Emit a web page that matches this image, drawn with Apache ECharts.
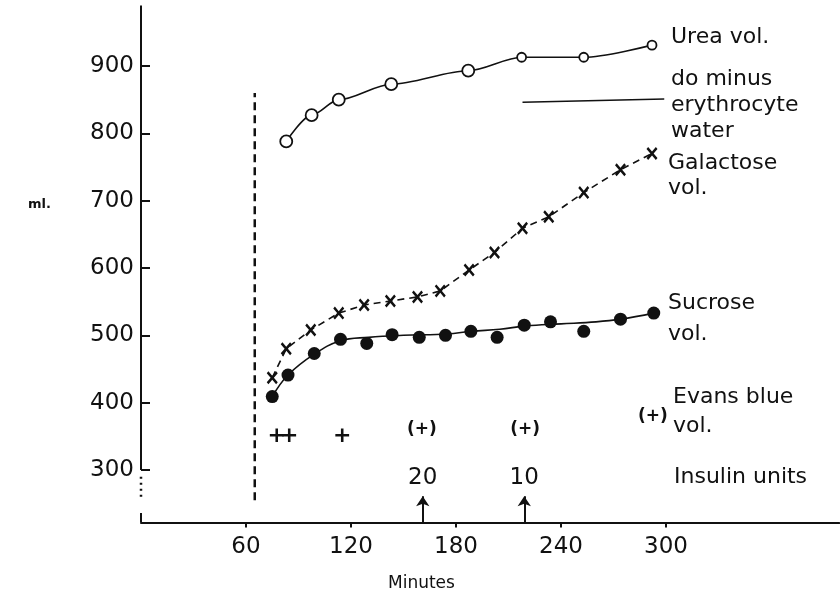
<!DOCTYPE html>
<html>
<head>
<meta charset="utf-8">
<script src="https://cdn.jsdelivr.net/npm/echarts@6/dist/echarts.min.js"></script>
<style>
  html, body { margin: 0; background: #fff; }
  #chart { width: 840px; height: 595px; }
</style>
</head>
<body>
<div id="chart"></div>
<script>
// values (minutes, ml.)
const ureaMinutes = [83, 97.5, 113, 143, 187, 217.5, 253, 292];
const ureaVol = [788, 827, 850, 873, 893, 913, 913, 931];

const galactoseMinutes = [75, 83, 97, 113, 127.5, 142.5, 158, 171, 187.5, 202, 218, 233, 253, 274, 292];
const galactoseVol = [437, 480, 508, 533, 545, 551, 557, 566, 597, 623, 659, 676, 712, 746, 770];

const sucroseMinutes = [75, 84, 99, 114, 129, 143.5, 159, 174, 188.5, 203.5, 219, 234, 253, 274, 293];
const sucroseVol = [409, 441, 473, 494, 488, 501, 497, 500, 506, 497, 515, 520, 506, 524, 533];

// smooth curve drawn through the sucrose points
const sucroseFitMinutes = [75, 84, 99, 114, 130, 150, 175, 189, 205, 220, 240, 260, 274, 293];
const sucroseFitVol = [409, 441, 472, 492, 497, 500, 502, 506, 509, 514, 517, 520, 524, 533];

// "do minus erythrocyte water" line
const erythroMinutes = [218, 299];
const erythroVol = [846, 851];

const evansMinutes = [77.5, 84.7, 115, 160.5, 219.5, 292.5];
const evansLevel = [349.5, 349.5, 349.5, 359.5, 359.5, 379];
const evansMarks = ['+', '+', '+', '(+)', '(+)', '(+)'];

const insulinMinutes = [161, 219];
const insulinUnits = ['20', '10'];
const insulinLabelLevel = 288;

const dashedLineMinute = 65;
const dashedLineRange = [255, 860];

const yTicks = [300, 400, 500, 600, 700, 800, 900];
const xTicks = [60, 120, 180, 240, 300];

const yMin = 222, yMax = 990;

const pair = (xs, ys) => xs.map((x, i) => [x, ys[i]]);
const ink = '#111';
const font = '"DejaVu Sans", sans-serif';

const chart = echarts.init(document.getElementById('chart'));

const plainLine = (data, extra) => Object.assign({
  type: 'line',
  data: data,
  symbol: 'none',
  silent: true,
  clip: false,
  lineStyle: { color: ink, width: 2 }
}, extra);

const xMark = 'path://M0,3 L3,0 L10,7 L17,0 L20,3 L13,10 L20,17 L17,20 L10,13 L3,20 L0,17 L7,10 Z';

const hidden = { color: 'rgba(0,0,0,0)', opacity: 1 };

chart.setOption({
  animation: false,
  backgroundColor: '#fff',
  grid: { left: 141, top: 5.4, width: 698.25, height: 517.1, outerBoundsMode: 'none' },
  xAxis: {
    type: 'value',
    min: 0,
    max: 399,
    axisLine: { lineStyle: { color: ink, width: 2 } },
    axisTick: { customValues: xTicks, length: 5, lineStyle: { color: ink, width: 2 } },
    axisLabel: { customValues: xTicks, margin: 13, color: ink, fontSize: 23, fontFamily: font },
    splitLine: { show: false }
  },
  yAxis: {
    type: 'value',
    min: yMin,
    max: yMax,
    axisLine: { show: false },
    axisTick: { show: true, customValues: yTicks, inside: true, length: 9, lineStyle: { color: ink, width: 2 } },
    axisLabel: { customValues: yTicks, margin: 7, color: ink, fontSize: 23, fontFamily: font },
    splitLine: { show: false }
  },
  graphic: [
    { type: 'text', left: 28, top: 198, style: { text: 'ml.', fill: ink, font: 'bold 13px ' + font } },
    { type: 'text', left: 388, top: 575, style: { text: 'Minutes', fill: ink, font: '17px ' + font } },
    { type: 'text', left: 671, top: 24, style: { text: 'Urea vol.', fill: ink, font: '22px ' + font, lineHeight: 26 } },
    { type: 'text', left: 671, top: 66, style: { text: 'do minus\nerythrocyte\nwater', fill: ink, font: '22px ' + font, lineHeight: 26 } },
    { type: 'text', left: 668, top: 151, style: { text: 'Galactose\nvol.', fill: ink, font: '22px ' + font, lineHeight: 25 } },
    { type: 'text', left: 668, top: 288, style: { text: 'Sucrose\nvol.', fill: ink, font: '22px ' + font, lineHeight: 31 } },
    { type: 'text', left: 673, top: 383, style: { text: 'Evans blue\nvol.', fill: ink, font: '22px ' + font, lineHeight: 29 } },
    { type: 'text', left: 674, top: 464, style: { text: 'Insulin units', fill: ink, font: '22px ' + font, lineHeight: 26 } }
  ],
  series: [
    // broken y axis
    plainLine([[0, 300], [0, yMax]]),
    plainLine([[0, 290], [0, 255]], { lineStyle: { color: ink, width: 2.5, type: [2, 4] } }),
    plainLine([[0, 236], [0, yMin]]),
    // vertical dashed line
    plainLine([[dashedLineMinute, dashedLineRange[0]], [dashedLineMinute, dashedLineRange[1]]],
      { lineStyle: { color: ink, width: 2.5, type: [8, 5] } }),
    plainLine(pair(erythroMinutes, erythroVol), { lineStyle: { color: ink, width: 1.5 } }),
    {
      name: 'Urea vol.',
      type: 'line',
      data: pair(ureaMinutes, ureaVol),
      smooth: 0.3,
      smoothMonotone: 'x',
      symbol: 'circle',
      symbolSize: (v, p) => (p.dataIndex < 5 ? 12 : 9),
      itemStyle: { color: '#fff', borderColor: ink, borderWidth: 1.8, opacity: 1 },
      lineStyle: { color: ink, width: 1.6 },
      z: 3
    },
    {
      name: 'Galactose vol.',
      type: 'line',
      data: pair(galactoseMinutes, galactoseVol),
      symbol: xMark,
      symbolSize: [11, 13],
      itemStyle: { color: ink, opacity: 1 },
      lineStyle: { color: ink, width: 1.6, type: [7, 5] },
      z: 3
    },
    plainLine(pair(sucroseFitMinutes, sucroseFitVol), { smooth: 0.4, lineStyle: { color: ink, width: 1.6 } }),
    {
      name: 'Sucrose vol.',
      type: 'scatter',
      data: pair(sucroseMinutes, sucroseVol),
      symbol: 'circle',
      symbolSize: 13,
      itemStyle: { color: ink, opacity: 1 },
      z: 4
    },
    {
      name: 'Evans blue vol.',
      type: 'scatter',
      data: pair(evansMinutes, evansLevel),
      symbolSize: 1,
      itemStyle: hidden,
      label: {
        show: true,
        position: 'inside',
        formatter: p => {
          const m = evansMarks[p.dataIndex];
          return m === '+' ? '{big|+}' : '{small|' + m + '}';
        },
        rich: {
          big: { color: ink, fontSize: 22, fontWeight: 'bold', fontFamily: font },
          small: { color: ink, fontSize: 17, fontWeight: 'bold', fontFamily: font }
        }
      }
    },
    {
      name: 'Insulin units',
      type: 'scatter',
      data: insulinMinutes.map(m => [m, insulinLabelLevel]),
      symbolSize: 1,
      itemStyle: hidden,
      label: {
        show: true,
        position: 'inside',
        formatter: p => insulinUnits[p.dataIndex],
        color: ink,
        fontSize: 23,
        fontFamily: font
      },
      markLine: {
        silent: true,
        symbol: ['none', 'arrow'],
        symbolSize: 10,
        label: { show: false },
        itemStyle: { color: ink },
        lineStyle: { color: ink, width: 2, type: 'solid', opacity: 1 },
        data: insulinMinutes.map(m => [{ coord: [m, yMin] }, { coord: [m, 261] }])
      }
    }
  ]
});
</script>
</body>
</html>
